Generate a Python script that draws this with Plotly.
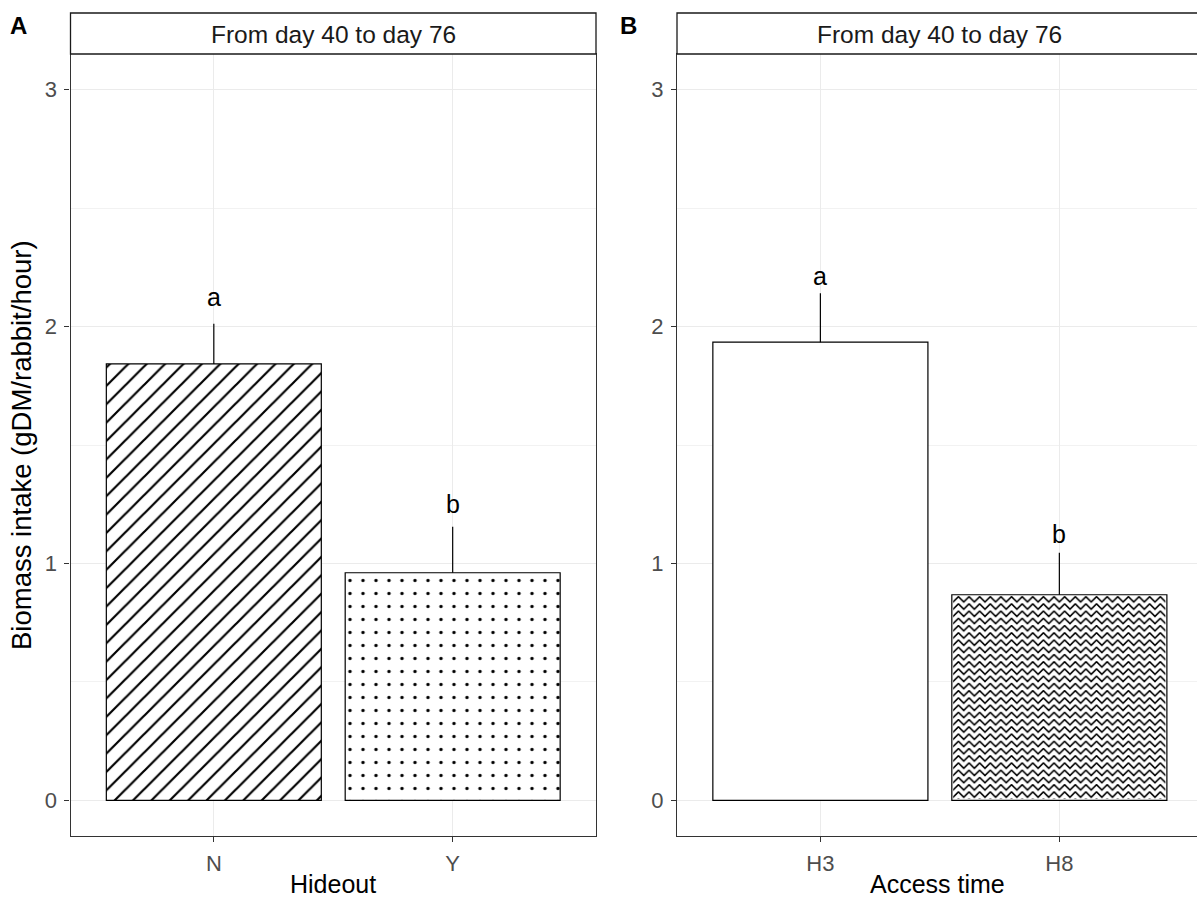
import base64
import plotly.graph_objects as go

# ---- data ----
hideout_cats = ["N", "Y"]
hideout_mean = [1.842, 0.961]
hideout_se = [0.170, 0.194]
hideout_letters = ["a", "b"]
hideout_letter_y = [2.114, 1.243]

access_cats = ["H3", "H8"]
access_mean = [1.934, 0.868]
access_se = [0.206, 0.177]
access_letters = ["a", "b"]
access_letter_y = [2.206, 1.117]

strip_label = "From day 40 to day 76"
y_ticks = [0, 1, 2, 3]

W, H = 1197, 897
FONT = "Liberation Sans, Arial, sans-serif"

def px_x(p):
    return p / W

def px_y(p):
    return 1 - p / H

BAR_W = 0.9
YR = [-0.15, 3.15]
TICK_FS = 22
STRIP_FS = 24.5
LETTER_FS = 25

fig = go.Figure()

# Panel A bars
fig.add_trace(go.Bar(
    x=[0], y=[hideout_mean[0]], width=BAR_W, xaxis="x", yaxis="y",
    marker=dict(color="white", line=dict(color="black", width=1.2),
                pattern=dict(shape="/", size=13, solidity=0.17, fgcolor="black",
                             fgopacity=1, bgcolor="white")),
    error_y=dict(type="data", array=[hideout_se[0]], arrayminus=[0], symmetric=False,
                 color="black", thickness=1.2, width=0),
    showlegend=False, hoverinfo="skip"))
fig.add_trace(go.Bar(
    x=[1], y=[hideout_mean[1]], width=BAR_W, xaxis="x", yaxis="y",
    marker=dict(color="white", line=dict(color="black", width=1.2),
                pattern=dict(shape=".", size=13, solidity=0.05, fgcolor="black",
                             fgopacity=1, bgcolor="white")),
    error_y=dict(type="data", array=[hideout_se[1]], arrayminus=[0], symmetric=False,
                 color="black", thickness=1.2, width=0),
    showlegend=False, hoverinfo="skip"))

# Panel B bars
fig.add_trace(go.Bar(
    x=[0, 1], y=access_mean, width=BAR_W, xaxis="x2", yaxis="y2",
    marker=dict(color="white", line=dict(color="black", width=1.2)),
    error_y=dict(type="data", array=access_se, arrayminus=[0, 0], symmetric=False,
                 color="black", thickness=1.2, width=0),
    showlegend=False, hoverinfo="skip"))

# zigzag fill pattern as an svg image over the H8 bar
svg = (
    '<svg xmlns="http://www.w3.org/2000/svg" width="214" height="205" viewBox="0 0 214 205" '
    'preserveAspectRatio="none">'
    '<defs><pattern id="z" patternUnits="userSpaceOnUse" width="10.7" height="7.3">'
    '<path d="M-0.6,6.6 L5.35,0.6 L11.3,6.6" fill="none" stroke="#000" stroke-width="1.6"/>'
    '</pattern></defs>'
    '<rect width="214" height="205" fill="white"/>'
    '<rect width="214" height="205" fill="url(#z)"/></svg>'
)
uri = "data:image/svg+xml;base64," + base64.b64encode(svg.encode()).decode()
inset_x = 1.3 / 239
inset_y = 1.3 * 3.3 / 782
fig.add_layout_image(dict(
    source=uri, xref="x2", yref="y2",
    x=1 - BAR_W / 2 + inset_x, y=access_mean[1] - inset_y,
    sizex=BAR_W - 2 * inset_x, sizey=access_mean[1] - 2 * inset_y,
    xanchor="left", yanchor="top", sizing="stretch", layer="above"))

# letters
ann = []
for i, (ly, t) in enumerate(zip(hideout_letter_y, hideout_letters)):
    ann.append(dict(x=i, y=ly, xref="x", yref="y", text=t, showarrow=False,
                    xanchor="center", yanchor="middle", yshift=2,
                    font=dict(family=FONT, size=LETTER_FS, color="black")))
for i, (ly, t) in enumerate(zip(access_letter_y, access_letters)):
    ann.append(dict(x=i, y=ly, xref="x2", yref="y2", text=t, showarrow=False,
                    xanchor="center", yanchor="middle", yshift=2,
                    font=dict(family=FONT, size=LETTER_FS, color="black")))

def paper_text(x, y, text, size, color="black", angle=0):
    return dict(x=px_x(x), y=px_y(y), xref="paper", yref="paper", text=text,
                showarrow=False, xanchor="center", yanchor="middle", textangle=angle,
                font=dict(family=FONT, size=size, color=color))

ann.append(paper_text(333, 34, strip_label, STRIP_FS, "#1a1a1a"))
ann.append(paper_text(939, 34, strip_label, STRIP_FS, "#1a1a1a"))
ann.append(paper_text(333, 884, "Hideout", 25))
ann.append(paper_text(937, 884, "Access time", 25))
ann.append(paper_text(22, 445, "Biomass intake (gDM/rabbit/hour)", 27.5, angle=-90))
ann.append(paper_text(18, 25, "<b>A</b>", 24))
ann.append(paper_text(628, 25, "<b>B</b>", 24))

shapes = [
    dict(type="rect", xref="paper", yref="paper", x0=px_x(70.5), x1=px_x(596),
         y0=px_y(54), y1=px_y(13), line=dict(color="#1a1a1a", width=1.3), fillcolor="white"),
    dict(type="rect", xref="paper", yref="paper", x0=px_x(677), x1=px_x(1205),
         y0=px_y(54), y1=px_y(13), line=dict(color="#1a1a1a", width=1.3), fillcolor="white"),
]

ydom = [px_y(836), px_y(54)]
common_y = dict(range=YR, tickvals=y_ticks, ticktext=[str(v) for v in y_ticks],
                ticks="outside", ticklen=5, tickcolor="#333", tickwidth=1.2,
                ticklabelstandoff=3,
                tickfont=dict(family=FONT, size=TICK_FS, color="#4d4d4d"),
                showgrid=True, gridcolor="#ebebeb", gridwidth=1.1, zeroline=False,
                minor=dict(dtick=0.5, tick0=0, showgrid=True, gridcolor="#f2f2f2", gridwidth=0.8, ticks=""),
                showline=True, linecolor="#333", linewidth=1.3, domain=ydom, fixedrange=True)
common_x = dict(tickvals=[0, 1], ticks="outside", ticklen=5, tickcolor="#333", tickwidth=1.2,
                ticklabelstandoff=2,
                tickfont=dict(family=FONT, size=TICK_FS, color="#4d4d4d"),
                showgrid=True, gridcolor="#ebebeb", gridwidth=1.1, zeroline=False,
                showline=True, linecolor="#333", linewidth=1.3, mirror=True)

fig.update_layout(
    width=W, height=H, margin=dict(l=0, r=0, t=0, b=0),
    paper_bgcolor="white", plot_bgcolor="white", barmode="overlay",
    xaxis=dict(**common_x, domain=[px_x(70.5), px_x(596)], range=[-0.6, 1.6],
               ticktext=hideout_cats, anchor="y"),
    yaxis=dict(**common_y, mirror=True, anchor="x"),
    xaxis2=dict(**common_x, domain=[px_x(677), 1.0], range=[-0.6, 1.576],
                ticktext=access_cats, anchor="y2"),
    yaxis2=dict(**common_y, mirror=False, anchor="x2"),
    annotations=ann, shapes=shapes, font=dict(family=FONT),
)

fig.write_html("out.html", config={"displayModeBar": False},
               post_script="document.body.style.margin='0';")
